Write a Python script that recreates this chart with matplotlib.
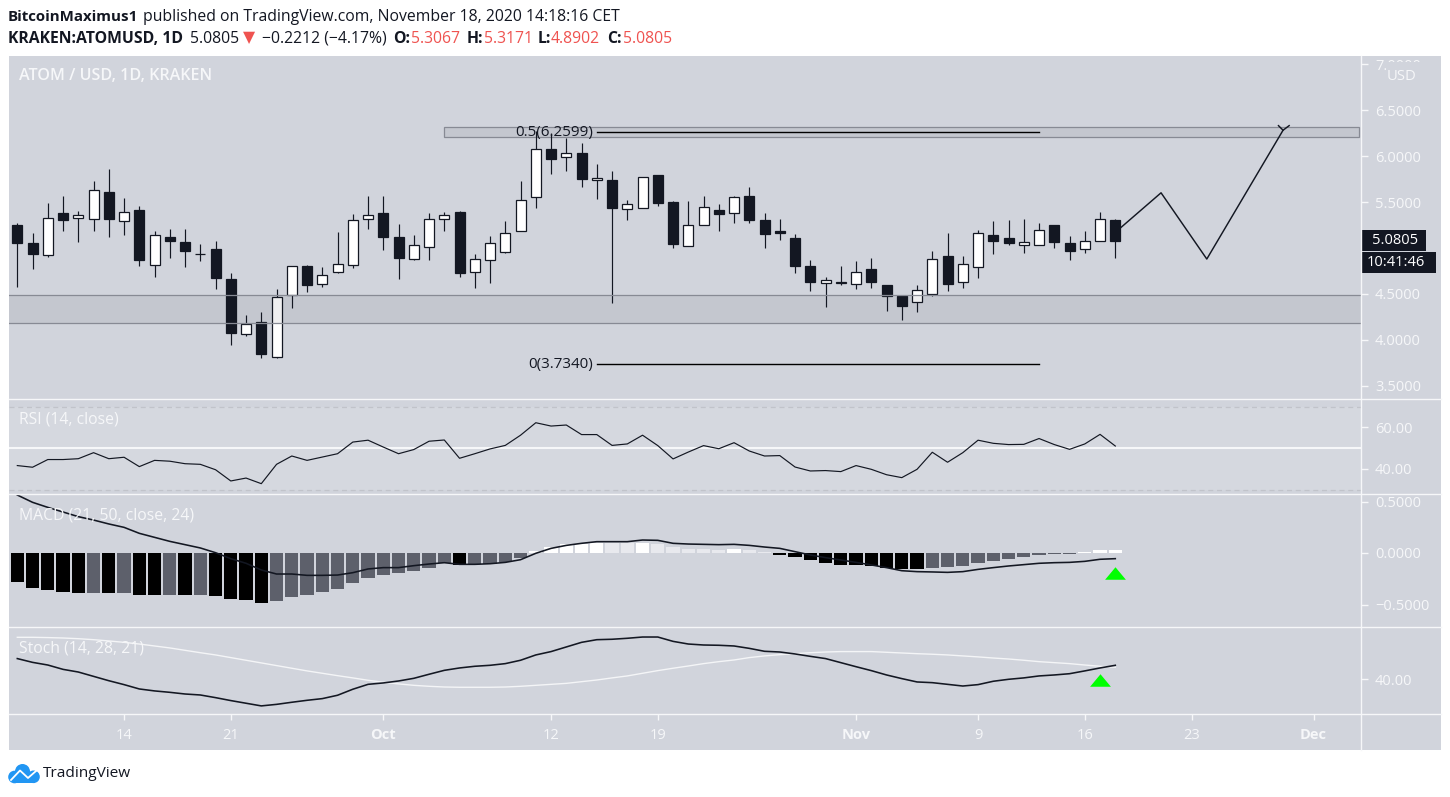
import matplotlib
matplotlib.use("Agg")
import matplotlib.pyplot as plt
from matplotlib.patches import Rectangle, Circle
from matplotlib.ticker import FuncFormatter, FixedLocator
import numpy as np
import pandas as pd

plt.rcParams['font.family'] = ['Open Sans', 'DejaVu Sans']

W, H = 1450, 797
BG = '#d1d4dc'
INK = '#131722'
LABEL = '#f6f7f9'

start_date = pd.Timestamp('2020-09-07')

opens = [5.25, 5.05, 4.92, 5.38, 5.33, 5.32, 5.61, 5.29, 5.41, 4.82, 5.12, 5.07, 4.94, 4.99, 4.66, 4.07, 4.20, 3.82,
         4.49, 4.80, 4.61, 4.74, 4.81, 5.32, 5.38, 5.12, 4.88, 5.01, 5.32, 5.39, 4.74, 4.87, 4.96, 5.18, 5.55, 6.08,
         5.99, 6.03, 5.74, 5.74, 5.42, 5.44, 5.79, 5.50, 5.02, 5.25, 5.41, 5.38, 5.57, 5.30, 5.19, 5.11, 4.80, 4.62,
         4.62, 4.61, 4.77, 4.60, 4.48, 4.41, 4.50, 4.91, 4.63, 4.79, 5.14, 5.11, 5.03, 5.03, 5.25, 5.05, 4.99, 5.08, 5.3067]
highs = [5.27, 5.16, 5.49, 5.57, 5.40, 5.73, 5.86, 5.54, 5.46, 5.18, 5.21, 5.21, 5.04, 5.08, 4.73, 4.27, 4.30, 4.55,
         4.80, 4.82, 4.79, 5.17, 5.37, 5.57, 5.57, 5.26, 5.14, 5.38, 5.39, 5.40, 4.93, 5.13, 5.29, 5.73, 6.27, 6.25,
         6.20, 6.14, 5.91, 5.84, 5.52, 5.77, 5.79, 5.51, 5.51, 5.57, 5.48, 5.56, 5.66, 5.38, 5.32, 5.15, 4.87, 4.69,
         4.80, 4.86, 4.89, 4.60, 4.48, 4.60, 4.97, 5.16, 4.91, 5.20, 5.29, 5.30, 5.32, 5.27, 5.25, 5.13, 5.18, 5.39, 5.3171]
lows = [4.58, 4.77, 4.90, 5.19, 5.06, 5.19, 5.12, 5.14, 4.80, 4.68, 4.89, 4.79, 4.86, 4.55, 3.95, 4.04, 3.80, 3.80,
        4.35, 4.52, 4.58, 4.73, 4.78, 5.21, 4.98, 4.66, 4.87, 4.87, 5.19, 4.68, 4.57, 4.62, 4.95, 5.18, 5.43, 5.80,
        5.84, 5.66, 5.53, 4.40, 5.30, 5.44, 5.46, 5.00, 5.02, 5.25, 5.19, 5.27, 5.27, 5.00, 5.09, 4.73, 4.53, 4.36,
        4.60, 4.55, 4.57, 4.32, 4.22, 4.30, 4.48, 4.53, 4.57, 4.67, 4.93, 5.03, 4.95, 5.03, 5.00, 4.87, 4.95, 5.08, 4.8902]
closes = [5.05, 4.94, 5.33, 5.30, 5.36, 5.63, 5.32, 5.39, 4.87, 5.14, 5.08, 4.97, 4.94, 4.67, 4.08, 4.17, 3.85, 4.47,
          4.80, 4.60, 4.71, 4.83, 5.30, 5.36, 5.12, 4.89, 5.03, 5.32, 5.36, 4.73, 4.88, 5.05, 5.16, 5.52, 6.08, 5.97,
          6.03, 5.75, 5.76, 5.44, 5.48, 5.77, 5.49, 5.04, 5.25, 5.45, 5.37, 5.55, 5.30, 5.15, 5.16, 4.80, 4.63, 4.65,
          4.63, 4.74, 4.63, 4.48, 4.37, 4.54, 4.88, 4.61, 4.83, 5.16, 5.08, 5.05, 5.06, 5.20, 5.06, 4.97, 5.08, 5.31, 5.0805]

rsi = [41.6, 40.8, 44.5, 44.5, 44.9, 47.8, 44.9, 45.6, 41.1, 44.1, 43.7, 42.5, 42.2, 39.6, 34.2, 35.6, 32.9, 42.2,
       46.2, 44.1, 45.7, 47.3, 52.9, 53.8, 50.5, 47.3, 49.3, 53.3, 53.9, 45.1, 47.3, 49.6, 51.3, 56.2, 62.2, 60.6,
       61.1, 56.5, 56.5, 51.3, 52.0, 56.2, 51.2, 44.8, 48.1, 51.2, 49.7, 52.6, 48.6, 46.2, 46.4, 40.9, 39.0, 39.2,
       38.7, 41.6, 39.8, 37.2, 35.8, 39.8, 48.0, 43.2, 47.8, 53.8, 52.3, 51.7, 51.8, 54.6, 51.7, 49.4, 52.0, 56.6, 51.0]

macd_hist = [-0.282, -0.340, -0.359, -0.379, -0.388, -0.388, -0.388, -0.388, -0.408, -0.408, -0.408, -0.408, -0.408,
             -0.417, -0.447, -0.456, -0.485, -0.466, -0.427, -0.408, -0.379, -0.349, -0.291, -0.243, -0.214, -0.194,
             -0.175, -0.146, -0.097, -0.116, -0.104, -0.104, -0.084, -0.052, 0.019, 0.058, 0.087, 0.087, 0.100, 0.100,
             0.094, 0.100, 0.091, 0.058, 0.039, 0.039, 0.032, 0.039, 0.029, 0.010, -0.016, -0.036, -0.068, -0.094,
             -0.113, -0.113, -0.123, -0.142, -0.152, -0.152, -0.142, -0.133, -0.123, -0.094, -0.074, -0.055, -0.036,
             -0.016, -0.006, -0.006, 0.010, 0.029, 0.029]
macd_line = [0.563, 0.492, 0.443, 0.398, 0.353, 0.320, 0.282, 0.249, 0.191, 0.152, 0.113, 0.081, 0.049, 0.003, -0.055,
             -0.100, -0.165, -0.204, -0.204, -0.217, -0.217, -0.214, -0.191, -0.155, -0.142, -0.142, -0.123, -0.107,
             -0.094, -0.110, -0.110, -0.104, -0.091, -0.065, -0.003, 0.045, 0.074, 0.094, 0.110, 0.110, 0.110, 0.126,
             0.123, 0.094, 0.087, 0.084, 0.081, 0.084, 0.074, 0.058, 0.045, 0.013, -0.019, -0.045, -0.068, -0.091,
             -0.116, -0.142, -0.172, -0.181, -0.184, -0.188, -0.181, -0.159, -0.142, -0.126, -0.113, -0.100, -0.094,
             -0.091, -0.081, -0.061, -0.055]

stoch_k = [54.8, 52.1, 50.2, 47.1, 45.2, 42.1, 39.0, 36.2, 33.1, 31.7, 30.7, 29.5, 28.8, 26.9, 24.8, 22.9, 21.0, 22.1,
           23.6, 25.0, 26.2, 28.6, 32.9, 36.4, 37.4, 38.8, 40.7, 43.6, 46.4, 48.1, 49.3, 50.0, 51.2, 53.6, 57.4, 59.8,
           63.1, 66.4, 68.3, 68.6, 69.3, 70.2, 70.2, 67.1, 65.2, 64.5, 64.3, 63.8, 62.1, 60.0, 59.5, 58.1, 56.4, 54.8,
           51.9, 49.0, 46.2, 43.1, 40.5, 38.1, 37.6, 36.4, 35.2, 36.2, 38.6, 40.0, 41.0, 42.4, 43.1, 44.0, 46.0, 48.1, 50.0]
stoch_d = [70.0, 70.0, 69.8, 69.5, 69.0, 68.3, 67.4, 66.4, 65.2, 63.8, 62.4, 60.7, 59.0, 57.4, 55.5, 53.6, 51.7, 49.8,
           47.9, 46.0, 44.3, 42.6, 41.0, 39.3, 37.9, 36.7, 35.7, 35.0, 34.5, 34.3, 34.3, 34.3, 34.5, 35.0, 35.7, 36.4,
           37.1, 38.3, 39.5, 41.0, 42.4, 44.3, 46.2, 47.9, 49.5, 51.2, 52.6, 53.8, 55.5, 56.7, 57.6, 58.3, 59.0, 59.5,
           59.8, 59.8, 59.8, 59.3, 58.8, 58.3, 57.9, 57.4, 56.7, 56.0, 55.2, 54.5, 53.6, 52.6, 51.9, 51.2, 50.2, 49.3, 48.6]

# drawn projection, days counted from start_date
path_days = [72, 75, 78, 83]
path_prices = [5.17, 5.60, 4.88, 6.28]
arrow_days = [82.7, 83, 83.4]
arrow_prices = [6.33, 6.28, 6.33]

fib_days = [38, 67]
fib_half = 6.2599
fib_zero = 3.7340
support_zone = (4.18, 4.486)
resistance_zone = (6.203, 6.312)
resistance_start = 28
last_price = 5.0805

price_ticks = [3.5, 4.0, 4.5, 5.5, 6.0, 6.5, 7.0]
rsi_ticks = [40, 60]
macd_ticks = [-0.5, 0.0, 0.5]
stoch_ticks = [40]
date_ticks = ['2020-09-14', '2020-09-21', '2020-10-01', '2020-10-12', '2020-10-19',
              '2020-11-01', '2020-11-09', '2020-11-16', '2020-11-23', '2020-12-01']
date_labels = ['14', '21', 'Oct', '12', '19', 'Nov', '9', '16', '23', 'Dec']

# one letter per histogram bar: k black, g grey, w white, l pale
hist_style = 'kkkkkgkgkkgkgkkkk' + 'g' * 12 + 'k' + 'gggg' + 'wwwww' + 'll' + 'w' + 'lllll' + 'w' + 'll' + 'k' * 10 + 'g' * 10 + 'www'
hist_colors = {'k': '#000000', 'g': '#5d606b', 'w': '#ffffff', 'l': '#e8e9ee'}

days = np.arange(len(closes))
x_left = (9 - 17.3) / 15.25
x_right = (1361 - 17.3) / 15.25


def px_axes(left, top, right, bottom, **kw):
    return fig.add_axes([left / W, 1 - bottom / H, (right - left) / W, (bottom - top) / H], **kw)


def minus(fmt):
    return FuncFormatter(lambda v, pos: (fmt % v).replace('-', '\u2212'))


def style_pane(ax, ticks, fmt, ylim):
    ax.set_facecolor(BG)
    ax.set_xlim(x_left, x_right)
    ax.set_ylim(*ylim)
    for s in ax.spines.values():
        s.set_visible(False)
    ax.yaxis.tick_right()
    ax.yaxis.set_major_locator(FixedLocator(ticks))
    ax.yaxis.set_major_formatter(minus(fmt))
    ax.tick_params(axis='y', colors=LABEL, length=5, width=1, pad=5, labelsize=10.5)
    ax.set_xticks([])


fig = plt.figure(figsize=(W / 100, H / 100), dpi=100, facecolor='white')

# grey block behind all panes and both scales
fig.patches.append(Rectangle((9 / W, 1 - 750 / H), 1432 / W, 694 / H, transform=fig.transFigure,
                             facecolor=BG, edgecolor='none', zorder=-5))

# price pane
ax = px_axes(9, 56, 1361, 398)
style_pane(ax, price_ticks, '%.4f', (6.5 - (398 - 110) / 92, 6.5 + (110 - 56) / 92))
for d, o, h, l, c in zip(days, opens, highs, lows, closes):
    ax.vlines(d, l, h, color=INK, lw=0.85, zorder=3)
    up = c >= o
    ax.bar(d, abs(c - o), bottom=min(o, c), width=0.66, color='white' if up else INK,
           edgecolor=INK, linewidth=0.9, zorder=4)
ax.axhspan(*support_zone, color=INK, alpha=0.065, lw=0, zorder=5)
ax.axhline(support_zone[0], color='#878a94', lw=0.9, zorder=5)
ax.axhline(support_zone[1], color='#878a94', lw=0.9, zorder=5)
ax.add_patch(Rectangle((resistance_start, resistance_zone[0]), x_right - 0.15 - resistance_start,
                       resistance_zone[1] - resistance_zone[0], facecolor=(0.07, 0.09, 0.13, 0.065),
                       edgecolor='#878a94', lw=0.9, zorder=2))
ax.plot(fib_days, [fib_half] * 2, color='black', lw=1.0, zorder=6)
ax.plot(fib_days, [fib_zero] * 2, color='black', lw=1.0, zorder=6)
ax.text(fib_days[0] - 0.27, fib_half, '0.5(%.4f)' % fib_half, ha='right', va='center', fontsize=10.9, color=INK, zorder=6)
ax.text(fib_days[0] - 0.27, fib_zero, '0(%.4f)' % fib_zero, ha='right', va='center', fontsize=10.9, color=INK, zorder=6)
ax.plot(path_days, path_prices, color=INK, lw=1.05, zorder=6)
ax.plot(arrow_days, arrow_prices, color=INK, lw=1.05, zorder=6)

# RSI pane
ax_rsi = px_axes(9, 399, 1361, 494)
style_pane(ax_rsi, rsi_ticks, '%.2f', (60 - (494 - 427.3) / 2.08, 60 + (427.3 - 399) / 2.08))
ax_rsi.axhspan(30, 70, color='#d5d8df', lw=0, zorder=1)
ax_rsi.axhline(70, color='#c1c3ca', lw=0.9, ls=(0, (4, 3)), zorder=2)
ax_rsi.axhline(30, color='#c1c3ca', lw=0.9, ls=(0, (4, 3)), zorder=2)
ax_rsi.axhline(50, color='#f6f7f9', lw=1.5, zorder=2)
ax_rsi.plot(days, rsi, color=INK, lw=0.85, zorder=3)

# MACD pane
ax_macd = px_axes(9, 494, 1361, 627)
style_pane(ax_macd, macd_ticks, '%.4f', (-(627 - 553) / 103, (553 - 494) / 103))
ax_macd.bar(days, macd_hist, width=0.86, color=[hist_colors[s] for s in hist_style], lw=0, zorder=2)
ax_macd.plot(days, macd_line, color=INK, lw=1.15, zorder=3)

# Stochastic pane
ax_stoch = px_axes(9, 627, 1361, 714)
style_pane(ax_stoch, stoch_ticks, '%.2f', (40 - (714 - 679.3) / 1.4, 40 + (679.3 - 627) / 1.4))
ax_stoch.plot(days, stoch_d, color='#f4f5f7', lw=1.0, zorder=2)
ax_stoch.plot(days, stoch_k, color=INK, lw=1.15, zorder=3)

# green markers on the last crossings
tri = [(-1, -0.6), (1, -0.6), (0, 0.6)]
ax_macd.plot([72], [-0.194], marker=tri, ms=15, color='#00ff00', mew=0, zorder=4)
ax_stoch.plot([71], [39.4], marker=tri, ms=15, color='#00ff00', mew=0, zorder=4)

# date scale under the last pane
tick_days = [(pd.Timestamp(d) - start_date).days for d in date_ticks]
ax_stoch.set_xticks(tick_days)
ax_stoch.set_xticklabels(date_labels)
ax_stoch.tick_params(axis='x', colors=LABEL, length=4, width=1, pad=6, labelsize=10.5)
for t, name in zip(ax_stoch.get_xticklabels(), date_labels):
    if name in ('Oct', 'Nov', 'Dec'):
        t.set_fontweight('bold')

# overlay in pixel coordinates for the chrome around the panes
top = px_axes(0, 0, W, H, zorder=20)
top.set_xlim(0, W)
top.set_ylim(H, 0)
top.axis('off')

for y in [398.5, 494, 627, 714]:
    top.plot([9, 1441], [y, y], color='#f6f7f9', lw=1.0)
top.plot([1361, 1361], [56, 750], color='#f6f7f9', lw=1.0)

top.add_patch(Rectangle((1386, 62), 40, 22, facecolor=BG, edgecolor='none'))
top.text(1402, 76, 'USD', ha='center', va='center', fontsize=10.6, color=LABEL)

top.add_patch(Rectangle((1361, 230), 65, 21, facecolor=INK, edgecolor='none'))
top.text(1372, 240.5, '%.4f' % last_price, va='center', fontsize=10.5, color='white')
top.add_patch(Rectangle((1362, 252), 74, 21, facecolor=INK, edgecolor='none'))
top.text(1367, 262.5, '10:41:46', va='center', fontsize=10.5, color='white')

top.text(19, 76, 'ATOM / USD, 1D, KRAKEN', va='center', fontsize=11.6, fontweight='semibold', color=LABEL)
top.text(19, 419.5, 'RSI (14, close)', va='center', fontsize=11.3, color=LABEL)
top.text(19, 515.5, 'MACD (21, 50, close, 24)', va='center', fontsize=11.3, color=LABEL)
top.text(19, 648.5, 'Stoch (14, 28, 21)', va='center', fontsize=11.3, color=LABEL)

RED = '#ef5350'
HEAD = 11.3
top.text(8, 16.5, 'BitcoinMaximus1', va='center', fontsize=10.8, fontweight='bold', color=INK)
top.text(143, 16.5, 'published on TradingView.com, November 18, 2020 14:18:16 CET', va='center', fontsize=HEAD, color=INK)
for x, text, weight, color in [(8, 'KRAKEN:ATOMUSD, 1D', 'bold', INK), (190, '5.0805', 'normal', INK),
                               (243, '\u25bc', 'normal', RED), (262, '\u22120.2212 (\u22124.17%)', 'normal', INK),
                               (393, 'O:', 'bold', INK), (411.5, '5.3067', 'normal', RED),
                               (467, 'H:', 'bold', INK), (483.7, '5.3171', 'normal', RED),
                               (538, 'L:', 'bold', INK), (551, '4.8902', 'normal', RED),
                               (607, 'C:', 'bold', INK), (623, '5.0805', 'normal', RED)]:
    top.text(x, 38.5, text, va='center', fontsize=HEAD, fontweight=weight, color=color)

# TradingView mark
BLUE = '#2196f3'
for cx, cy, r in [(14.5, 777, 6.3), (22.5, 771.5, 7.5), (33.5, 776.8, 6.3)]:
    top.add_patch(Circle((cx, cy), r, facecolor=BLUE, edgecolor='none'))
top.add_patch(Rectangle((14, 776), 20, 7, facecolor=BLUE, edgecolor='none'))
top.plot([11, 20, 28, 36], [780, 770.5, 778, 771], color='white', lw=1.3)
top.text(42.5, 773.5, 'TradingView', va='center', fontsize=11.1, color=INK)

fig.savefig('out.png', dpi=100)
